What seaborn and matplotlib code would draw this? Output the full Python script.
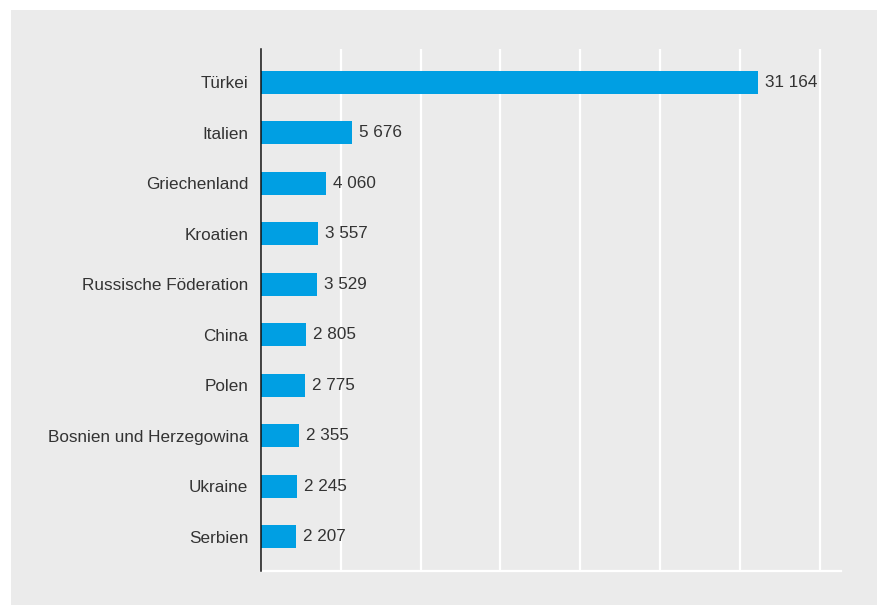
import matplotlib
matplotlib.use("Agg")
import matplotlib.pyplot as plt
from matplotlib.patches import Rectangle
import seaborn as sns
import pandas as pd

countries = [
    "Türkei", "Italien", "Griechenland", "Kroatien", "Russische Föderation",
    "China", "Polen", "Bosnien und Herzegowina", "Ukraine", "Serbien",
]
values = [31164, 5676, 4060, 3557, 3529, 2805, 2775, 2355, 2245, 2207]

df = pd.DataFrame({"Land": countries, "Anzahl": values})

sns.set_theme(style="white")
plt.rcParams["font.family"] = ["Liberation Sans", "DejaVu Sans"]

BAR_COLOR = "#009fe3"
PANEL = "#ebebeb"
TEXT = "#333333"

fig = plt.figure(figsize=(8.78, 6.05), dpi=100, facecolor="white")
# grey background panel behind the chart
fig.patches.append(Rectangle((11 / 878, 0), 866 / 878, 1 - 10 / 605,
                             transform=fig.transFigure, facecolor=PANEL,
                             edgecolor="none", zorder=-10))

ax = fig.add_axes([261 / 878, 1 - 571 / 605, 580 / 878, 522 / 605])
ax.set_facecolor(PANEL)

sns.barplot(data=df, y="Land", x="Anzahl", orient="h", color=BAR_COLOR,
            width=0.455, saturation=1, linewidth=0, ax=ax, zorder=3)

ax.set_xlim(0, 36340)
ax.set_ylim(9.68, -0.66)
ax.set_xticks(range(0, 36000, 5000))
ax.set_xticklabels([])
ax.grid(axis="x", color="white", linewidth=1.6, zorder=1)
ax.grid(axis="y", visible=False)
ax.set_axisbelow(True)
ax.set_xlabel("")
ax.set_ylabel("")
ax.tick_params(axis="both", length=0)
ax.tick_params(axis="y", pad=9, labelsize=12.3, labelcolor=TEXT)

for side in ("top", "right"):
    ax.spines[side].set_visible(False)
ax.spines["left"].set_color("#111111")
ax.spines["left"].set_linewidth(1.1)
ax.spines["left"].set_zorder(4)
ax.spines["bottom"].set_color("white")
ax.spines["bottom"].set_linewidth(1.6)

labels = [f"{v:,}".replace(",", " ") for v in values]
ax.bar_label(ax.containers[0], labels=labels, padding=5, fontsize=12.3,
             color=TEXT)

fig.savefig("out.png", dpi=100, facecolor="white")
